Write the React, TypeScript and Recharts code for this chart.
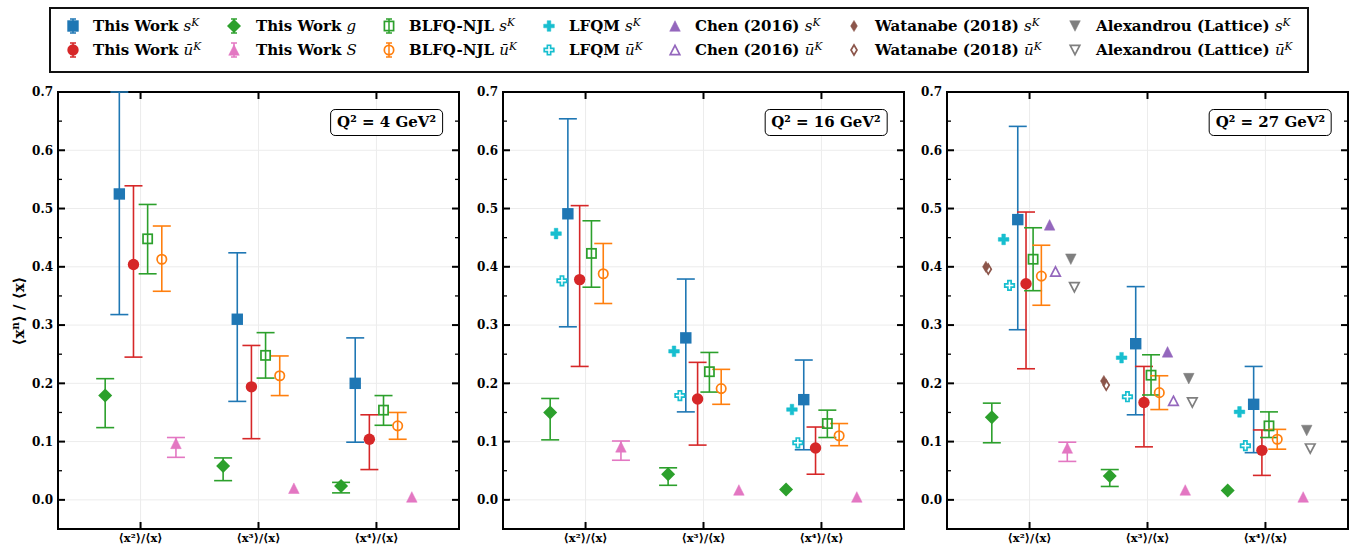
import React from "react";
import {
  ScatterChart,
  Scatter,
  XAxis,
  YAxis,
  CartesianGrid,
  ErrorBar,
  ReferenceArea,
} from "recharts";

// each point is [value] or [value, lower, upper]
type Pt = number[];

const CATEGORIES = ["⟨x²⟩/⟨x⟩", "⟨x³⟩/⟨x⟩", "⟨x⁴⟩/⟨x⟩"];
const Y_TICKS = [0, 0.05, 0.1, 0.15, 0.2, 0.25, 0.3, 0.35, 0.4, 0.45, 0.5, 0.55, 0.6, 0.65, 0.7];
const GRID_Y = [0, 0.1, 0.2, 0.3, 0.4, 0.5, 0.6, 0.7];
const GRID_X = [0, 1, 2];

// Q² = 4 GeV²
const Q4_THIS_S: Pt[] = [[0.525, 0.318, 0.7], [0.31, 0.169, 0.424], [0.2, 0.099, 0.278]];
const Q4_THIS_U: Pt[] = [[0.404, 0.245, 0.539], [0.194, 0.105, 0.265], [0.104, 0.052, 0.146]];
const Q4_THIS_G: Pt[] = [[0.179, 0.124, 0.208], [0.058, 0.033, 0.072], [0.024, 0.012, 0.03]];
const Q4_THIS_SEA: Pt[] = [[0.097, 0.073, 0.107], [0.02], [0.005]];
const Q4_BLFQ_S: Pt[] = [[0.448, 0.388, 0.507], [0.248, 0.209, 0.287], [0.154, 0.128, 0.179]];
const Q4_BLFQ_U: Pt[] = [[0.413, 0.358, 0.47], [0.213, 0.179, 0.247], [0.127, 0.104, 0.15]];

// Q² = 16 GeV²
const Q16_THIS_S: Pt[] = [[0.491, 0.297, 0.654], [0.278, 0.151, 0.379], [0.172, 0.086, 0.24]];
const Q16_THIS_U: Pt[] = [[0.378, 0.229, 0.505], [0.173, 0.094, 0.236], [0.089, 0.044, 0.125]];
const Q16_THIS_G: Pt[] = [[0.15, 0.103, 0.174], [0.044, 0.025, 0.055], [0.018]];
const Q16_THIS_SEA: Pt[] = [[0.091, 0.068, 0.101], [0.017], [0.005]];
const Q16_BLFQ_S: Pt[] = [[0.423, 0.365, 0.479], [0.22, 0.185, 0.253], [0.131, 0.107, 0.154]];
const Q16_BLFQ_U: Pt[] = [[0.388, 0.337, 0.44], [0.191, 0.164, 0.224], [0.11, 0.093, 0.131]];
const Q16_LFQM_S: Pt[] = [[0.457], [0.255], [0.155]];
const Q16_LFQM_U: Pt[] = [[0.376], [0.179], [0.098]];

// Q² = 27 GeV²
const Q27_THIS_S: Pt[] = [[0.481, 0.292, 0.641], [0.268, 0.146, 0.366], [0.164, 0.081, 0.229]];
const Q27_THIS_U: Pt[] = [[0.371, 0.225, 0.494], [0.167, 0.091, 0.229], [0.085, 0.042, 0.12]];
const Q27_THIS_G: Pt[] = [[0.142, 0.098, 0.166], [0.041, 0.023, 0.052], [0.016]];
const Q27_THIS_SEA: Pt[] = [[0.089, 0.066, 0.099], [0.017], [0.005]];
const Q27_BLFQ_S: Pt[] = [[0.413, 0.359, 0.467], [0.214, 0.18, 0.249], [0.127, 0.107, 0.151]];
const Q27_BLFQ_U: Pt[] = [[0.384, 0.334, 0.437], [0.184, 0.155, 0.213], [0.104, 0.087, 0.121]];
const Q27_LFQM_S: Pt[] = [[0.447], [0.244], [0.151]];
const Q27_LFQM_U: Pt[] = [[0.368], [0.177], [0.093]];
const Q27_CHEN_S: Pt[] = [[0.472], [0.254]];
const Q27_CHEN_U: Pt[] = [[0.392], [0.17]];
const Q27_WATANABE_S: Pt[] = [[0.4], [0.204]];
const Q27_WATANABE_U: Pt[] = [[0.396], [0.197]];
const Q27_ALEX_S: Pt[] = [[0.413], [0.208], [0.119]];
const Q27_ALEX_U: Pt[] = [[0.365], [0.167], [0.088]];

type Kind =
  | "square"
  | "squareOpen"
  | "circle"
  | "circleOpen"
  | "diamond"
  | "triUp"
  | "triUpOpen"
  | "triDown"
  | "triDownOpen"
  | "plus"
  | "plusOpen"
  | "thin"
  | "thinOpen";

const STYLES: Record<string, { kind: Kind; color: string; label: string; sym: string; sup: boolean }> = {
  thisS: { kind: "square", color: "#1f77b4", label: "This Work", sym: "s", sup: true },
  thisU: { kind: "circle", color: "#d62728", label: "This Work", sym: "ū", sup: true },
  thisG: { kind: "diamond", color: "#2ca02c", label: "This Work", sym: "g", sup: false },
  thisSea: { kind: "triUp", color: "#e377c2", label: "This Work", sym: "S", sup: false },
  blfqS: { kind: "squareOpen", color: "#2ca02c", label: "BLFQ-NJL", sym: "s", sup: true },
  blfqU: { kind: "circleOpen", color: "#ff7f0e", label: "BLFQ-NJL", sym: "ū", sup: true },
  lfqmS: { kind: "plus", color: "#17becf", label: "LFQM", sym: "s", sup: true },
  lfqmU: { kind: "plusOpen", color: "#17becf", label: "LFQM", sym: "ū", sup: true },
  chenS: { kind: "triUp", color: "#9467bd", label: "Chen (2016)", sym: "s", sup: true },
  chenU: { kind: "triUpOpen", color: "#9467bd", label: "Chen (2016)", sym: "ū", sup: true },
  watS: { kind: "thin", color: "#8c564b", label: "Watanabe (2018)", sym: "s", sup: true },
  watU: { kind: "thinOpen", color: "#8c564b", label: "Watanabe (2018)", sym: "ū", sup: true },
  alexS: { kind: "triDown", color: "#7f7f7f", label: "Alexandrou (Lattice)", sym: "s", sup: true },
  alexU: { kind: "triDownOpen", color: "#7f7f7f", label: "Alexandrou (Lattice)", sym: "ū", sup: true },
};

type Series = { id: string; pts: Pt[]; dx: number };

const PANELS: { q2: string; left: number; series: Series[] }[] = [
  {
    q2: "4",
    left: 58,
    series: [
      { id: "thisS", pts: Q4_THIS_S, dx: -0.18 },
      { id: "thisU", pts: Q4_THIS_U, dx: -0.06 },
      { id: "thisG", pts: Q4_THIS_G, dx: -0.3 },
      { id: "thisSea", pts: Q4_THIS_SEA, dx: 0.3 },
      { id: "blfqS", pts: Q4_BLFQ_S, dx: 0.06 },
      { id: "blfqU", pts: Q4_BLFQ_U, dx: 0.18 },
    ],
  },
  {
    q2: "16",
    left: 502.5,
    series: [
      { id: "thisS", pts: Q16_THIS_S, dx: -0.15 },
      { id: "thisU", pts: Q16_THIS_U, dx: -0.05 },
      { id: "thisG", pts: Q16_THIS_G, dx: -0.3 },
      { id: "thisSea", pts: Q16_THIS_SEA, dx: 0.3 },
      { id: "blfqS", pts: Q16_BLFQ_S, dx: 0.05 },
      { id: "blfqU", pts: Q16_BLFQ_U, dx: 0.15 },
      { id: "lfqmS", pts: Q16_LFQM_S, dx: -0.25 },
      { id: "lfqmU", pts: Q16_LFQM_U, dx: -0.2 },
    ],
  },
  {
    q2: "27",
    left: 947,
    series: [
      { id: "thisS", pts: Q27_THIS_S, dx: -0.1 },
      { id: "thisU", pts: Q27_THIS_U, dx: -0.03 },
      { id: "thisG", pts: Q27_THIS_G, dx: -0.32 },
      { id: "thisSea", pts: Q27_THIS_SEA, dx: 0.32 },
      { id: "blfqS", pts: Q27_BLFQ_S, dx: 0.03 },
      { id: "blfqU", pts: Q27_BLFQ_U, dx: 0.1 },
      { id: "lfqmS", pts: Q27_LFQM_S, dx: -0.22 },
      { id: "lfqmU", pts: Q27_LFQM_U, dx: -0.17 },
      { id: "chenS", pts: Q27_CHEN_S, dx: 0.17 },
      { id: "chenU", pts: Q27_CHEN_U, dx: 0.22 },
      { id: "watS", pts: Q27_WATANABE_S, dx: -0.37 },
      { id: "watU", pts: Q27_WATANABE_U, dx: -0.35 },
      { id: "alexS", pts: Q27_ALEX_S, dx: 0.35 },
      { id: "alexU", pts: Q27_ALEX_U, dx: 0.38 },
    ],
  },
];

const LEGEND_ROWS = [
  ["thisS", "thisG", "blfqS", "lfqmS", "chenS", "watS", "alexS"],
  ["thisU", "thisSea", "blfqU", "lfqmU", "chenU", "watU", "alexU"],
];
const LEGEND_MARK_X = [73, 234, 389, 549, 675, 854, 1075];
const LEGEND_TEXT_X = [93, 256, 409, 569, 695, 875, 1096];
const LEGEND_ROW_Y = [26, 50];

const FONT = "'DejaVu Serif', serif";
const PLOT_W = 401;
const PLOT_H = 437;
const PLOT_TOP = 92;

function Marker({ kind, color, cx, cy }: { kind: Kind; color: string; cx: number; cy: number }) {
  const sw = 1.7;
  const open = { fill: "none", stroke: color, strokeWidth: sw };
  const solid = { fill: color, stroke: color, strokeWidth: 0.5 };
  const poly = (pts: number[][]) => pts.map(([x, y]) => `${cx + x},${cy + y}`).join(" ");
  const plus = [
    [-1.8, -5.3], [1.8, -5.3], [1.8, -1.8], [5.3, -1.8], [5.3, 1.8], [1.8, 1.8],
    [1.8, 5.3], [-1.8, 5.3], [-1.8, 1.8], [-5.3, 1.8], [-5.3, -1.8], [-1.8, -1.8],
  ];
  switch (kind) {
    case "square":
      return <rect x={cx - 5.7} y={cy - 5.7} width={11.4} height={11.4} fill={color} />;
    case "squareOpen":
      return <rect x={cx - 4.6} y={cy - 4.6} width={9.2} height={9.2} {...open} />;
    case "circle":
      return <circle cx={cx} cy={cy} r={5.7} fill={color} />;
    case "circleOpen":
      return <circle cx={cx} cy={cy} r={4.7} {...open} />;
    case "diamond":
      return <polygon points={poly([[0, -7], [7, 0], [0, 7], [-7, 0]])} fill={color} />;
    case "triUp":
      return <polygon points={poly([[0, -5.3], [5.3, 5.3], [-5.3, 5.3]])} {...solid} />;
    case "triUpOpen":
      return <polygon points={poly([[0, -4.6], [4.8, 4.6], [-4.8, 4.6]])} {...open} />;
    case "triDown":
      return <polygon points={poly([[0, 5.3], [5.3, -5.3], [-5.3, -5.3]])} {...solid} />;
    case "triDownOpen":
      return <polygon points={poly([[0, 4.6], [4.8, -4.6], [-4.8, -4.6]])} {...open} />;
    case "plus":
      return <polygon points={poly(plus)} {...solid} />;
    case "plusOpen":
      return <polygon points={poly(plus.map(([x, y]) => [x * 0.9, y * 0.9]))} fill="#fff" stroke={color} strokeWidth={sw} />;
    case "thin":
      return <polygon points={poly([[0, -5.6], [3.4, 0], [0, 5.6], [-3.4, 0]])} {...solid} />;
    case "thinOpen":
      return <polygon points={poly([[0, -5], [3, 0], [0, 5], [-3, 0]])} {...open} />;
  }
  return null;
}

const isMajor = (v: number) => Math.abs(v * 10 - Math.round(v * 10)) < 1e-6;

function LeftTick(props: any) {
  const { x, y, payload } = props;
  const major = isMajor(payload.value);
  return (
    <g>
      <line x1={x} x2={x + (major ? 7 : 4)} y1={y} y2={y} stroke="#000" strokeWidth={major ? 2 : 1.3} />
      {major && (
        <text x={x - 5} y={y} dy="0.36em" textAnchor="end" fontFamily={FONT} fontWeight="bold" fontSize={12} fill="#000">
          {payload.value.toFixed(1)}
        </text>
      )}
    </g>
  );
}

function RightTick(props: any) {
  const { x, y, payload } = props;
  const major = isMajor(payload.value);
  return <line x1={x} x2={x - (major ? 7 : 4)} y1={y} y2={y} stroke="#000" strokeWidth={major ? 2 : 1.3} />;
}

function BottomTick(props: any) {
  const { x, y, payload } = props;
  return (
    <g>
      <line x1={x} x2={x} y1={y} y2={y - 7} stroke="#000" strokeWidth={2} />
      <text x={x} y={y + 13} textAnchor="middle" fontFamily={FONT} fontWeight="bold" fontSize={11.5} fill="#000">
        {CATEGORIES[payload.value]}
      </text>
    </g>
  );
}

function TopTick(props: any) {
  const { x, y } = props;
  return <line x1={x} x2={x} y1={y} y2={y + 7} stroke="#000" strokeWidth={2} />;
}

function buildData(pts: Pt[], dx: number) {
  return pts.map((p, i) => ({
    x: i + dx,
    y: p[0],
    err: p.length === 3 ? [p[0] - p[1], p[2] - p[0]] : undefined,
  }));
}

// axes are 1px thick so they still render; margins put the plot area where it belongs
const AXIS_COMMON = {
  type: "number" as const,
  interval: 0 as const,
  tickSize: 0,
  tickMargin: 0,
  axisLine: false,
  tickLine: false,
  allowDataOverflow: true,
};

function Panel({ q2, left, series }: { q2: string; left: number; series: Series[] }) {
  return (
    <>
      <div style={{ position: "absolute", left: left - 58, top: 80 }}>
        <ScatterChart width={58 + PLOT_W + 6} height={464} margin={{ top: PLOT_TOP - 81, right: 5, bottom: 14, left: 57 }}>
          <CartesianGrid stroke="#ececec" strokeWidth={1} horizontalValues={GRID_Y} verticalValues={GRID_X} />
          <XAxis {...AXIS_COMMON} dataKey="x" domain={[-0.7, 2.7]} ticks={GRID_X} height={1} tick={<BottomTick />} />
          <XAxis
            {...AXIS_COMMON}
            xAxisId="top"
            orientation="top"
            dataKey="x"
            domain={[-0.7, 2.7]}
            ticks={GRID_X}
            height={1}
            tick={<TopTick />}
          />
          <YAxis {...AXIS_COMMON} dataKey="y" domain={[-0.05, 0.7]} ticks={Y_TICKS} width={1} tick={<LeftTick />} />
          <YAxis
            {...AXIS_COMMON}
            yAxisId="right"
            orientation="right"
            dataKey="y"
            domain={[-0.05, 0.7]}
            ticks={Y_TICKS}
            width={1}
            tick={<RightTick />}
          />
          {series.map((s) => {
            const st = STYLES[s.id];
            const hasErr = s.pts.some((p) => p.length === 3);
            return (
              <Scatter
                key={s.id}
                data={buildData(s.pts, s.dx)}
                fill={st.color}
                isAnimationActive={false}
                shape={(p: any) => <Marker kind={st.kind} color={st.color} cx={p.cx} cy={p.cy} />}
              >
                {hasErr && (
                  <ErrorBar dataKey="err" direction="y" width={9} strokeWidth={1.6} stroke={st.color} />
                )}
              </Scatter>
            );
          })}
          <ReferenceArea x1={-0.7} x2={2.7} y1={-0.05} y2={0.7} fill="none" stroke="#000" strokeWidth={2} ifOverflow="visible" />
        </ScatterChart>
      </div>
      <div
        style={{
          position: "absolute",
          left: left + PLOT_W - 16,
          top: 109,
          transform: "translateX(-100%)",
          height: 27,
          lineHeight: "25px",
          padding: "0 6px",
          boxSizing: "border-box",
          border: "1.5px solid #000",
          borderRadius: 5,
          background: "#fff",
          fontFamily: FONT,
          fontWeight: "bold",
          fontSize: 15,
          whiteSpace: "nowrap",
        }}
      >
        Q² = {q2} GeV²
      </div>
    </>
  );
}

function LegendEntry({ id, col, row }: { id: string; col: number; row: number }) {
  const st = STYLES[id];
  const hasErr = ["thisS", "thisU", "thisG", "thisSea", "blfqS", "blfqU"].includes(id);
  const y = LEGEND_ROW_Y[row];
  return (
    <>
      <svg
        width={20}
        height={20}
        style={{ position: "absolute", left: LEGEND_MARK_X[col] - 10, top: y - 10, overflow: "visible" }}
      >
        {hasErr && (
          <g stroke={st.color} strokeWidth={1.5}>
            <line x1={10} x2={10} y1={3} y2={17} />
            <line x1={7} x2={13} y1={3} y2={3} />
            <line x1={7} x2={13} y1={17} y2={17} />
          </g>
        )}
        <Marker kind={st.kind} color={st.color} cx={10} cy={10} />
      </svg>
      <div
        style={{
          position: "absolute",
          left: LEGEND_TEXT_X[col],
          top: y - 11,
          height: 22,
          lineHeight: "22px",
          fontFamily: FONT,
          fontWeight: "bold",
          fontSize: 15,
          whiteSpace: "nowrap",
        }}
      >
        {st.label}{" "}
        <span style={{ fontStyle: "italic", fontWeight: "normal" }}>
          {st.sym}
          {st.sup && <span style={{ fontSize: "0.7em", position: "relative", top: "-0.5em" }}>K</span>}
        </span>
      </div>
    </>
  );
}

export default function App() {
  return (
    <div style={{ position: "absolute", left: 0, top: 0, width: 1354, height: 544, background: "#fff", overflow: "hidden" }}>
      <div
        style={{
          position: "absolute",
          left: 49,
          top: 7,
          width: 1260,
          height: 66,
          boxSizing: "border-box",
          border: "2px solid #111",
        }}
      />
      {LEGEND_ROWS.map((r, row) => r.map((id, col) => <LegendEntry key={id} id={id} col={col} row={row} />))}
      <div
        style={{
          position: "absolute",
          left: 19,
          top: PLOT_TOP + PLOT_H / 2,
          transform: "translate(-50%, -50%) rotate(-90deg)",
          fontFamily: FONT,
          fontWeight: "bold",
          fontSize: 15,
          whiteSpace: "nowrap",
        }}
      >
        ⟨x<span style={{ fontSize: "0.7em", position: "relative", top: "-0.5em" }}>n</span>⟩ / ⟨x⟩
      </div>
      {PANELS.map((p) => (
        <Panel key={p.q2} q2={p.q2} left={p.left} series={p.series} />
      ))}
    </div>
  );
}
